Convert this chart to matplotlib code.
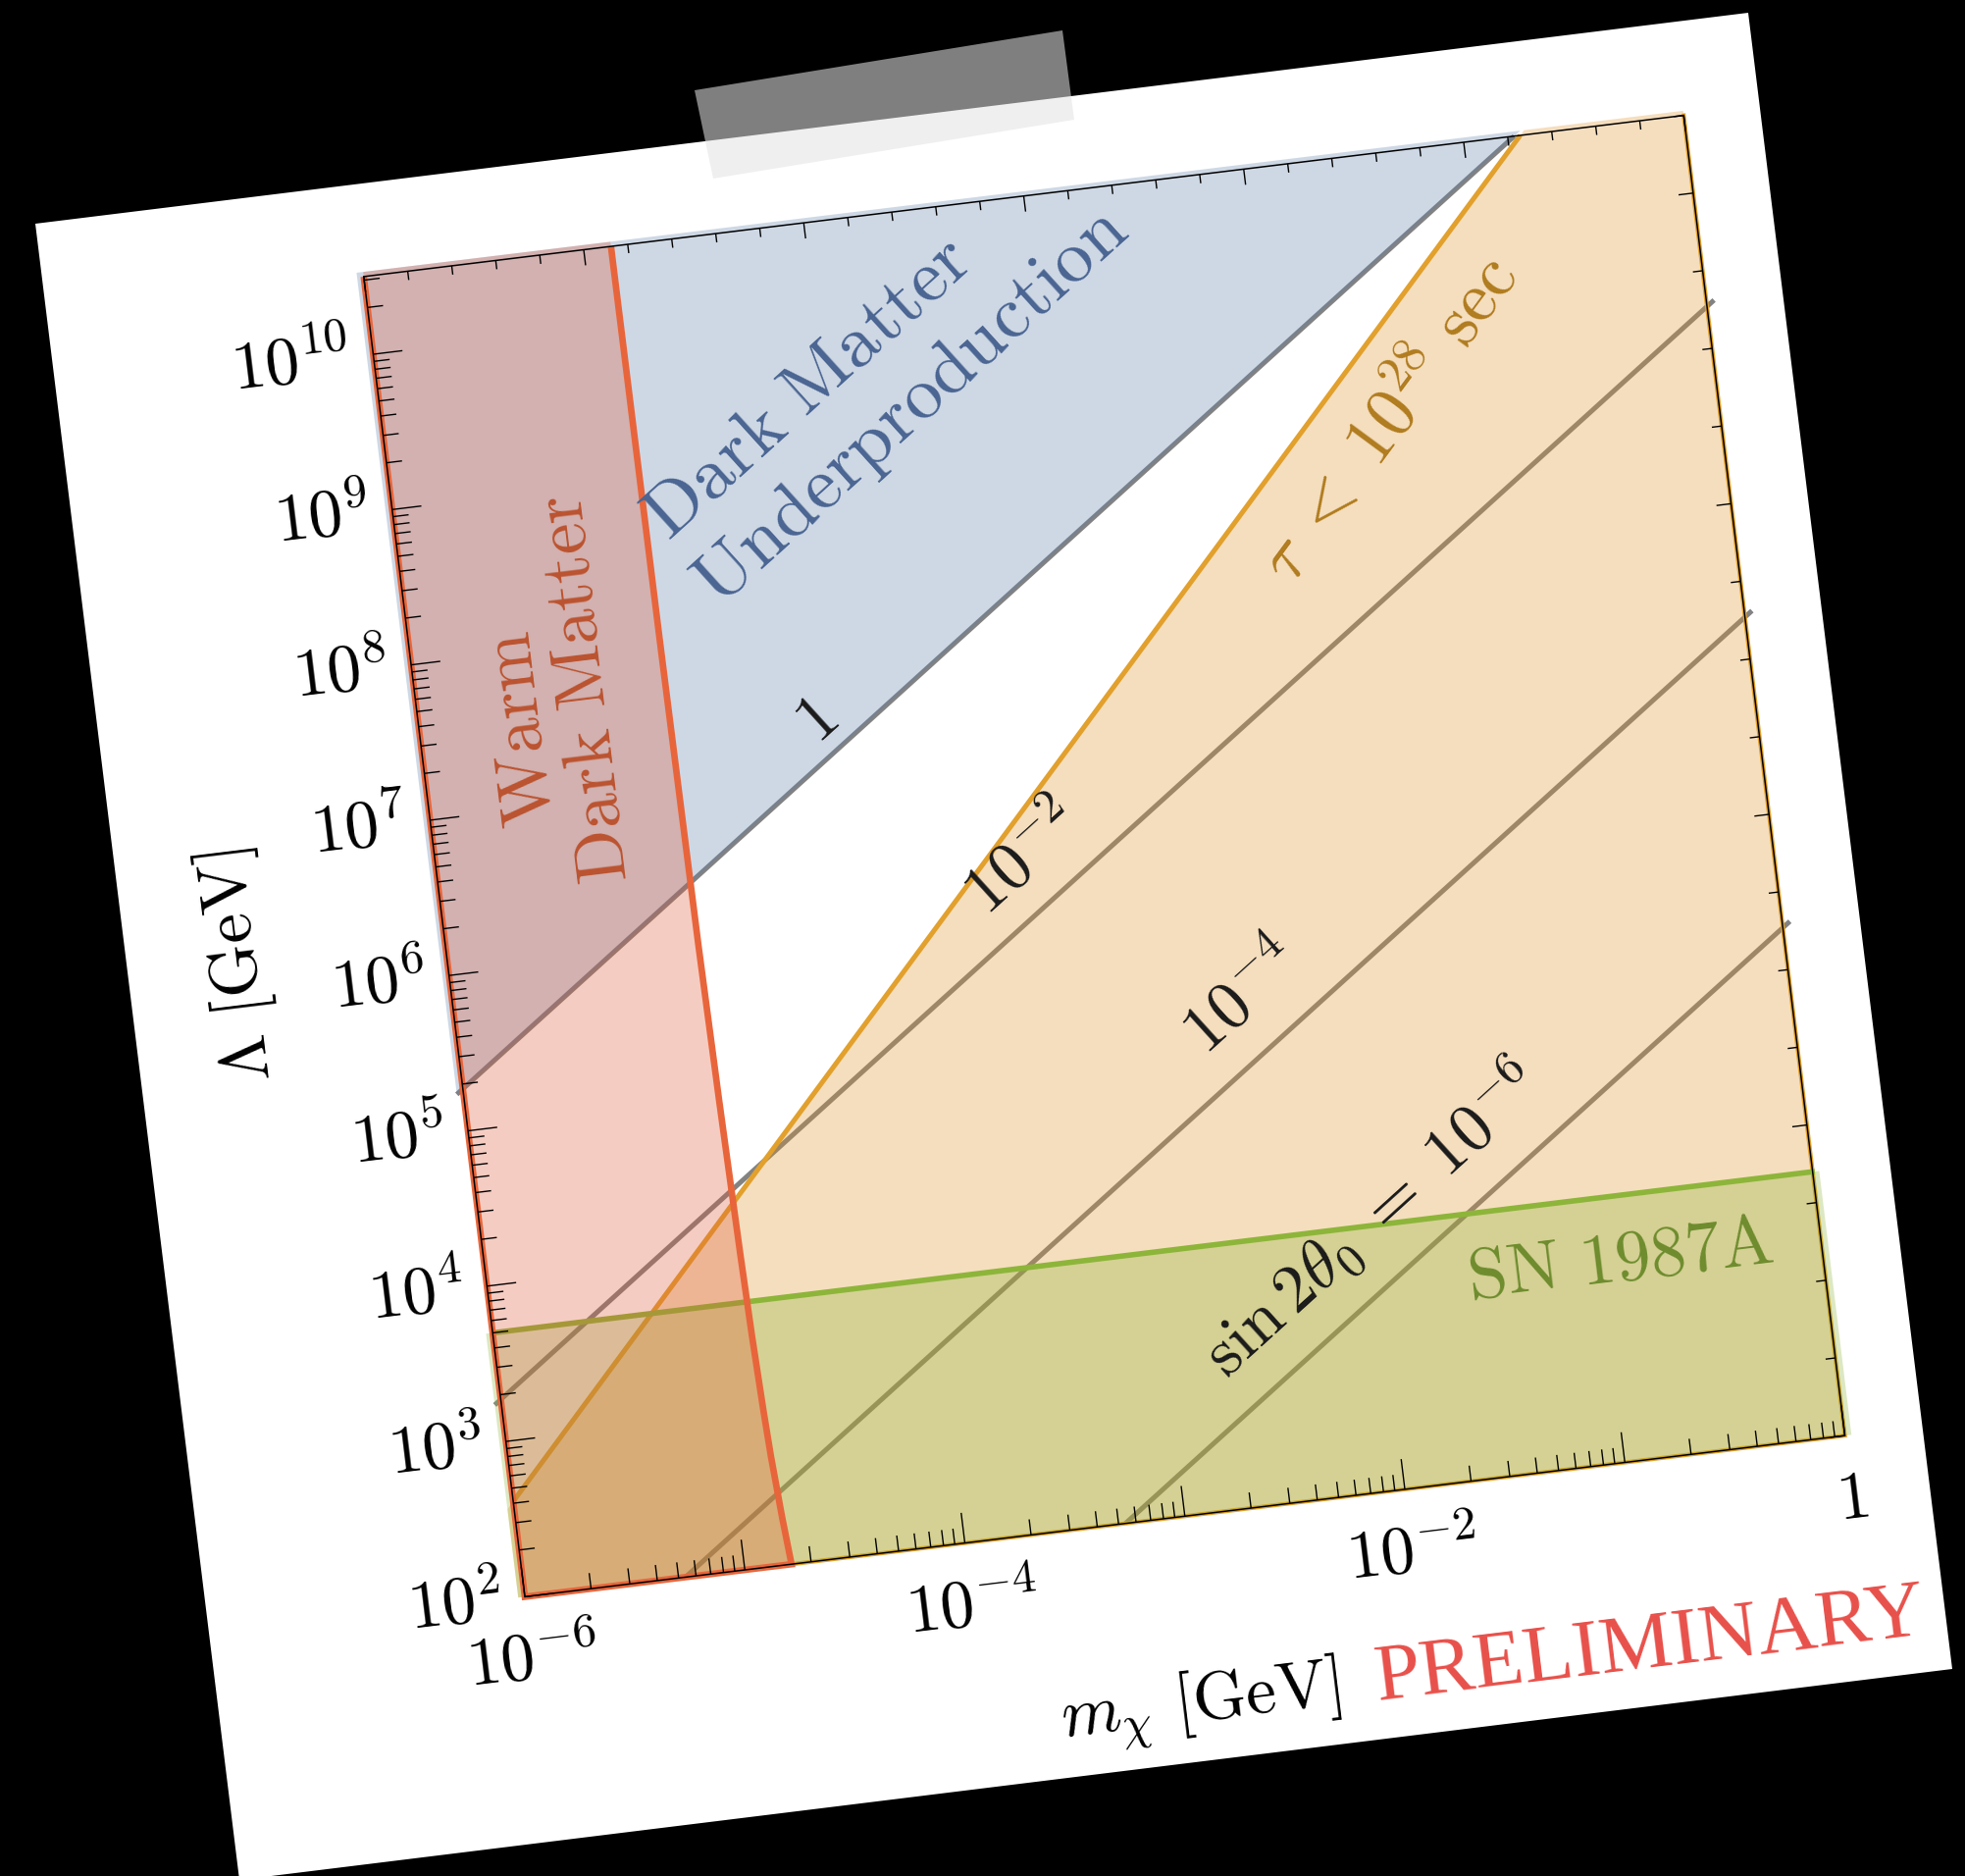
import numpy as np
import matplotlib
matplotlib.use("Agg")
import matplotlib.pyplot as plt
from matplotlib.transforms import Affine2D
from matplotlib.patches import Polygon, Rectangle
from matplotlib.collections import LineCollection

plt.rcParams["mathtext.fontset"] = "cm"
plt.rcParams["font.family"] = ["DejaVu Serif"]

# ------------------------------------------------------------------
# Parameter space: dark matter mass m_chi [GeV] vs. scale Lambda [GeV]
# ------------------------------------------------------------------
m_lim = [1e-6, 1.0]
lam_lim = [1e2, 10 ** 10.5]

# contours of constant sin(2 theta_0): straight lines in log-log, (m, Lambda) end points
mix_labels = [r"$1$", r"$10^{-2}$", r"$10^{-4}$", r"$\sin 2\theta_0\;=\;10^{-6}$"]
mix_m_start = [10 ** -6.03, 10 ** -6.03, 10 ** -5.27, 10 ** -3.27]
mix_lam_start = [10 ** 5.24, 10 ** 3.24, 1e2, 1e2]
mix_m_end = [10 ** -0.77, 10 ** 0.035, 10 ** 0.035, 10 ** 0.035]
mix_lam_end = [10 ** 10.5, 10 ** 9.305, 10 ** 7.305, 10 ** 5.305]
# label anchor points (m, Lambda) for the contour labels
mix_label_m = [10 ** -4.214, 10 ** -3.362, 10 ** -2.458, 10 ** -2.003]
mix_label_lam = [10 ** 7.33, 10 ** 6.294, 10 ** 5.24, 10 ** 3.745]

# lifetime bound tau < 1e28 s
tau_m = [1e-6, 10 ** -0.743]
tau_lam = [10 ** 2.614, 10 ** 10.5]

# SN 1987A cooling bound
sn_m = [1e-6, 1.0]
sn_lam = [5.0e3, 5.0e3]

# warm dark matter lower bound on the mass
wdm_lam = [1e2, 2e2, 5e2, 1e3, 3e3, 1e4, 1e5, 1e6, 1e8, 10 ** 10.5]
wdm_m = [1.63e-5, 1.57e-5, 1.51e-5, 1.48e-5, 1.445e-5, 1.42e-5,
         1.385e-5, 1.36e-5, 1.34e-5, 1.33e-5]

# tick labels
y_label_exps = [2, 3, 4, 5, 6, 7, 8, 9, 10]
x_label_exps = [-6, -4, -2, 0]
x_label_text = [r"$10^{-6}$", r"$10^{-4}$", r"$10^{-2}$", r"$1$"]

# colours
c_gray = "#828282"
c_orange = "#de942a"
c_orange_line = "#e2a02c"
c_red = "#de5837"
c_red_line = "#e8653b"
c_green = "#8eb436"
c_green_line = "#8db53a"
c_blue = "#5f80ac"

# ------------------------------------------------------------------
W, H = 2003, 1912
fig = plt.figure(figsize=(W / 100, H / 100), dpi=100)
fig.patch.set_facecolor("black")
ax = fig.add_axes([0, 0, 1, 1])
ax.set_xlim(0, W)
ax.set_ylim(H, 0)
ax.set_axis_off()

# sheet of paper and a strip of tape
ax.add_patch(Polygon([(36, 228), (1782, 13), (1990, 1701), (244, 1916)],
                     closed=True, fc="white", ec="none", zorder=0))
ax.add_patch(Polygon([(708, 92), (1083, 31), (1095, 122), (727, 182)],
                     closed=True, fc="#e4e4e4", ec="none", alpha=0.56, zorder=30))

# tilted log-log frame printed on the sheet
X0, X1 = np.log10(m_lim)
Y0, Y1 = np.log10(lam_lim)
side = 1355.5
tilt = 6.96
px_x = side / (X1 - X0)
px_y = side / (Y1 - Y0)
to_page = (Affine2D().translate(-X0, -Y0).scale(px_x, px_y)
           .rotate_deg(tilt).scale(1, -1).translate(535.0, 1627.4))
T = to_page + ax.transData


def screen_angle(slope):
    a, b = T.transform([(X0, Y0), (X0 + 1.0, Y0 + slope)])
    return np.degrees(np.arctan2(b[1] - a[1], b[0] - a[0]))


def line_through(m_pts, lam_pts):
    x = np.log10(m_pts)
    y = np.log10(lam_pts)
    k = (y[1] - y[0]) / (x[1] - x[0])
    return (lambda xx: y[0] + k * (xx - x[0])), (lambda yy: x[0] + (yy - y[0]) / k), k


bleed = 0.03

# contour lines of the mixing angle (drawn beneath the shaded regions)
for ms, ls, me, le in zip(mix_m_start, mix_lam_start, mix_m_end, mix_lam_end):
    ax.plot(np.log10([ms, me]), np.log10([ls, le]), transform=T, color=c_gray,
            lw=3.6, solid_capstyle="butt", zorder=2)

# lifetime region
tau_y, tau_x, tau_k = line_through(tau_m, tau_lam)
orange_poly = [(X0 - bleed, Y0), (X0 - bleed, tau_y(X0 - bleed)),
               (tau_x(Y1 + bleed), Y1 + bleed), (X1, Y1 + bleed), (X1, Y0)]
ax.add_patch(Polygon(orange_poly, closed=True, transform=T, fc=c_orange,
                     ec="none", alpha=0.3, zorder=3))
ax.plot(np.log10(tau_m), np.log10(tau_lam), transform=T, color=c_orange_line,
        lw=3.6, solid_capstyle="butt", zorder=3.5)
ax.plot([X1, X1, X0], [Y1, Y0, Y0], transform=T, color=c_orange_line,
        lw=3.0, solid_joinstyle="miter", zorder=3.5)

# SN 1987A region
sn_x = np.log10(sn_m)
sn_y = np.log10(sn_lam)
green_poly = [(X0 - bleed, Y0), (X0 - bleed, sn_y[0])] + \
             list(zip(sn_x[1:-1], sn_y[1:-1])) + \
             [(X1 + bleed, sn_y[-1]), (X1 + bleed, Y0)]
ax.add_patch(Polygon(green_poly, closed=True, transform=T, fc=c_green,
                     ec="none", alpha=0.3, zorder=4))
ax.plot([X0 - 0.01] + list(sn_x[1:-1]) + [X1 + 0.01], sn_y, transform=T,
        color=c_green_line, lw=4.0, solid_capstyle="butt", zorder=4.5)

# under-production region (above the sin 2theta = 1 line)
u_y, u_x, _ = line_through([mix_m_start[0], mix_m_end[0]], [mix_lam_start[0], mix_lam_end[0]])
blue_poly = [(X0 - bleed, u_y(X0 - bleed)), (u_x(Y1 + bleed), Y1 + bleed),
             (X0 - bleed, Y1 + bleed)]
ax.add_patch(Polygon(blue_poly, closed=True, transform=T, fc=c_blue,
                     ec="none", alpha=0.3, zorder=5))

# warm dark matter region
wx = np.log10(wdm_m)
wy = np.log10(wdm_lam)
red_poly = [(X0, Y0)] + list(zip(wx, wy)) + [(wx[-1], Y1 + bleed), (X0, Y1 + bleed)]
ax.add_patch(Polygon(red_poly, closed=True, transform=T, fc=c_red,
                     ec="none", alpha=0.3, zorder=6))
ax.plot([X0, X0] + list(wx), [Y1, Y0] + list(wy), transform=T, color=c_red_line,
        lw=4.8, solid_joinstyle="miter", solid_capstyle="butt", zorder=6.5)

# frame
ax.add_patch(Rectangle((X0, Y0), X1 - X0, Y1 - Y0, transform=T, fill=False,
                       ec="black", lw=1.1, zorder=7))

# ticks on all four sides, pointing inwards
segs = []
for d in range(int(Y0), int(np.ceil(Y1)) + 1):
    for k in range(1, 10):
        v = d + np.log10(k)
        if Y0 - 1e-9 <= v <= Y1 + 1e-9:
            L = 30 if k == 1 else 16
            segs.append([(X0, v), (X0 + L / px_x, v)])
for v in np.arange(Y0, Y1 + 1e-6, 0.5):
    L = 15 if abs(v % 2) < 1e-6 else 10
    segs.append([(X1, v), (X1 - L / px_x, v)])
for d in range(int(X0), int(X1) + 1):
    for k in range(1, 10):
        v = d + np.log10(k)
        if X0 - 1e-9 <= v <= X1 + 1e-9:
            L = 31 if k == 1 else 16
            segs.append([(v, Y0), (v, Y0 + L / px_y)])
for v in np.arange(X0, X1 + 1e-6, 0.2):
    L = 16 if abs(v - round(v)) < 1e-6 else 9
    segs.append([(v, Y1), (v, Y1 - L / px_y)])
ax.add_collection(LineCollection(segs, transform=T, colors="black",
                                 linewidths=1.0, zorder=7))

# tick labels
for e in y_label_exps:
    ax.text(X0 - 0.105, e, rf"$10^{{{e}}}$", transform=T, rotation=tilt,
            rotation_mode="anchor", ha="right", va="center", fontsize=50,
            color="black", zorder=8)
for e, s in zip(x_label_exps, x_label_text):
    ax.text(e, Y0 - 0.53, s, transform=T, rotation=tilt, rotation_mode="anchor",
            ha="center", va="baseline", fontsize=50, color="black", zorder=8)

# axis titles
ax.text(-6.938, 6.228, r"$\Lambda\ [\mathrm{GeV}]$", transform=T, rotation=tilt + 90,
        rotation_mode="anchor", ha="center", va="center", fontsize=50, zorder=8)
ax.text(-2.40, 0.685, r"$m_\chi\ [\mathrm{GeV}]$", transform=T, rotation=tilt,
        rotation_mode="anchor", ha="right", va="baseline", fontsize=50, zorder=8)
ax.text(-2.235, 0.685, "PRELIMINARY", transform=T, rotation=tilt,
        rotation_mode="anchor", ha="left", va="baseline", fontsize=60,
        family="Liberation Serif", color="#e8504a", zorder=8)

# region and contour labels
ang1 = screen_angle(1.0)
for s, m, lam in zip(mix_labels, mix_label_m, mix_label_lam):
    ax.text(np.log10(m), np.log10(lam), s, transform=T, rotation=ang1,
            rotation_mode="anchor", ha="center", va="center", fontsize=50,
            color="#1a1a1a", zorder=8)

ax.text(-1.48, 8.792, r"$\tau\;<\;10^{28}\ \mathrm{sec}$", transform=T,
        rotation=screen_angle(tau_k), rotation_mode="anchor", ha="center",
        va="center", fontsize=52, color="#b07c1e", zorder=8)
ax.text(-0.91, 3.283, r"$\mathrm{SN\ 1987A}$", transform=T, rotation=tilt,
        rotation_mode="anchor", ha="center", va="center", fontsize=52,
        color="#6e8c2e", zorder=8)
ax.text(-4.07, 9.445, r"$\mathrm{Dark\ Matter}$", transform=T, rotation=ang1,
        rotation_mode="anchor", ha="center", va="center", fontsize=55,
        color="#4a6592", zorder=8)
ax.text(-3.616, 9.246, r"$\mathrm{Underproduction}$", transform=T, rotation=ang1,
        rotation_mode="anchor", ha="center", va="center", fontsize=55,
        color="#4a6592", zorder=8)
ax.text(-5.54, 7.51, r"$\mathrm{Warm}$", transform=T, rotation=tilt + 90,
        rotation_mode="anchor", ha="center", va="center", fontsize=52,
        color="#bb532f", zorder=8)
ax.text(-5.237, 7.71, r"$\mathrm{Dark\ Matter}$", transform=T, rotation=tilt + 90,
        rotation_mode="anchor", ha="center", va="center", fontsize=52,
        color="#bb532f", zorder=8)

fig.savefig("out.png", dpi=100, facecolor="black")
